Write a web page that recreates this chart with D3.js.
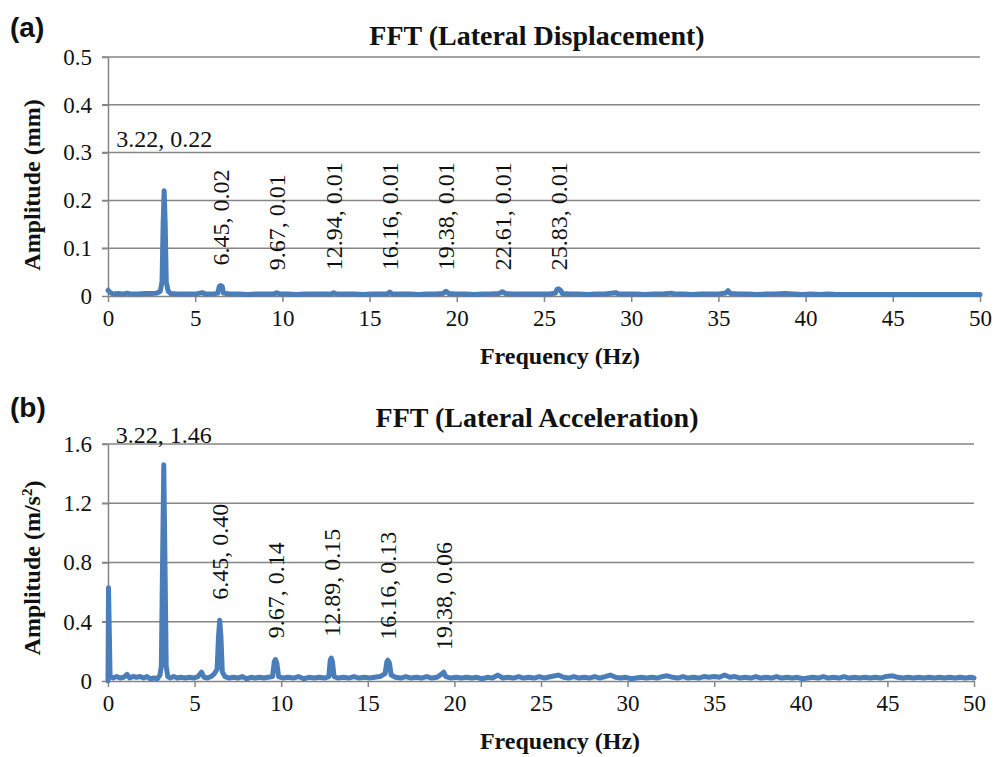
<!DOCTYPE html>
<html>
<head>
<meta charset="utf-8">
<script src="https://cdn.jsdelivr.net/npm/d3@7"></script>
<style>
  body { margin: 0; background: #fff; }
  .grid line { stroke: #858585; stroke-width: 1.5; }
  .axis path, .axis line { stroke: #858585; stroke-width: 1.5; }
  .series { fill: none; stroke: #4a7ebb; stroke-width: 5; stroke-linejoin: round; stroke-linecap: round; }
</style>
</head>
<body>
<script>
// frequency ticks shared by both panels
const freqTicks = [0, 5, 10, 15, 20, 25, 30, 35, 40, 45, 50];
const dispTicks = [0, 0.1, 0.2, 0.3, 0.4, 0.5];
const accTicks = [0, 0.4, 0.8, 1.2, 1.6];

// (a) lateral displacement spectrum, [Hz, mm]
const dispSpectrum = [
  [0,0.012],[0.1,0.008],[0.3,0.004],[0.6,0.005],[0.9,0.004],[1.1,0.006],[1.3,0.004],[1.7,0.004],
  [2.1,0.005],[2.5,0.005],[2.8,0.006],[3.0,0.01],[3.1,0.03],[3.16,0.15],[3.22,0.22],[3.28,0.15],
  [3.34,0.03],[3.45,0.01],[3.6,0.005],[4.0,0.004],[4.5,0.004],[5.0,0.004],[5.4,0.007],[5.6,0.004],
  [6.0,0.004],[6.3,0.006],[6.38,0.02],[6.45,0.022],[6.55,0.02],[6.62,0.006],[7.0,0.004],[7.5,0.004],
  [8.0,0.003],[8.5,0.004],[9.0,0.004],[9.5,0.004],[9.67,0.007],[9.85,0.004],[10.3,0.004],[10.8,0.003],
  [11.3,0.004],[11.8,0.004],[12.3,0.004],[12.8,0.004],[12.94,0.007],[13.1,0.004],[13.6,0.004],[14.1,0.004],
  [14.6,0.003],[15.1,0.004],[15.6,0.004],[16.0,0.004],[16.16,0.008],[16.3,0.004],[16.8,0.004],[17.3,0.004],
  [17.8,0.003],[18.3,0.004],[18.8,0.004],[19.2,0.005],[19.38,0.01],[19.55,0.005],[20.0,0.004],[20.5,0.004],
  [21.0,0.003],[21.5,0.004],[22.0,0.004],[22.4,0.005],[22.61,0.009],[22.8,0.005],[23.3,0.004],[23.8,0.004],
  [24.3,0.004],[24.8,0.004],[25.3,0.004],[25.65,0.006],[25.75,0.014],[25.83,0.015],[25.95,0.012],[26.05,0.005],
  [26.5,0.004],[27,0.004],[27.5,0.003],[28,0.004],[28.5,0.004],[29.1,0.007],[29.3,0.004],[29.8,0.004],
  [30.3,0.004],[30.8,0.003],[31.3,0.004],[31.8,0.004],[32.3,0.006],[32.5,0.004],[33,0.004],[33.5,0.003],
  [34,0.004],[34.5,0.004],[35,0.004],[35.4,0.006],[35.55,0.011],[35.7,0.005],[36.2,0.004],[36.7,0.004],
  [37.2,0.003],[37.7,0.004],[38.2,0.004],[38.8,0.005],[39.3,0.004],[39.8,0.003],[40.3,0.004],[40.8,0.003],
  [41.3,0.004],[41.8,0.003],[42.3,0.003],[43,0.003],[44,0.003],[45,0.003],[46,0.003],[47,0.003],
  [48,0.003],[49,0.003],[50,0.003]
];

// (b) lateral acceleration spectrum, [Hz, m/s2]
const accSpectrum = [
  [0,0.0],[0.03,0.63],[0.08,0.3],[0.12,0.03],[0.3,0.02],[0.5,0.03],[0.7,0.02],[0.9,0.025],[1.1,0.045],
  [1.25,0.02],[1.45,0.03],[1.65,0.025],[1.85,0.03],[2.05,0.02],[2.25,0.03],[2.45,0.015],[2.65,0.02],
  [2.85,0.015],[3.0,0.04],[3.08,0.1],[3.15,0.8],[3.22,1.46],[3.29,0.8],[3.36,0.1],[3.45,0.03],[3.6,0.02],
  [3.8,0.03],[4.0,0.02],[4.2,0.025],[4.45,0.02],[4.7,0.025],[4.95,0.02],[5.2,0.03],[5.4,0.06],[5.55,0.025],
  [5.75,0.02],[5.95,0.03],[6.15,0.05],[6.3,0.08],[6.38,0.3],[6.45,0.41],[6.52,0.3],[6.6,0.06],[6.75,0.03],
  [7.0,0.02],[7.25,0.025],[7.5,0.02],[7.75,0.03],[8.0,0.015],[8.25,0.025],[8.5,0.02],[8.75,0.025],[9.0,0.02],
  [9.25,0.025],[9.5,0.03],[9.6,0.13],[9.67,0.145],[9.75,0.12],[9.85,0.03],[10.1,0.02],[10.4,0.025],[10.7,0.02],
  [11.0,0.03],[11.3,0.015],[11.6,0.025],[11.9,0.02],[12.2,0.025],[12.5,0.02],[12.75,0.03],[12.83,0.14],
  [12.89,0.155],[12.96,0.13],[13.05,0.03],[13.3,0.02],[13.6,0.025],[13.9,0.02],[14.2,0.03],[14.5,0.02],
  [14.8,0.025],[15.1,0.02],[15.4,0.025],[15.7,0.03],[16.0,0.05],[16.1,0.13],[16.16,0.14],[16.25,0.12],
  [16.35,0.04],[16.6,0.025],[16.9,0.02],[17.2,0.03],[17.5,0.02],[17.8,0.025],[18.1,0.02],[18.4,0.03],
  [18.7,0.02],[19.0,0.025],[19.3,0.05],[19.38,0.06],[19.5,0.03],[19.8,0.02],[20.1,0.025],[20.4,0.02],
  [20.7,0.025],[21.0,0.02],[21.3,0.025],[21.6,0.015],[21.9,0.025],[22.2,0.02],[22.5,0.04],[22.8,0.02],
  [23.1,0.025],[23.4,0.02],[23.7,0.03],[24.0,0.02],[24.3,0.025],[24.6,0.02],[24.9,0.03],[25.2,0.02],
  [25.6,0.03],[26.0,0.04],[26.3,0.025],[26.6,0.02],[26.9,0.03],[27.2,0.02],[27.5,0.025],[27.8,0.02],
  [28.1,0.03],[28.4,0.02],[28.7,0.03],[29.0,0.04],[29.3,0.025],[29.6,0.02],[29.9,0.025],[30.2,0.015],
  [30.5,0.02],[30.8,0.025],[31.1,0.02],[31.4,0.025],[31.7,0.02],[32.0,0.03],[32.3,0.035],[32.6,0.025],
  [32.9,0.02],[33.2,0.03],[33.5,0.02],[33.8,0.025],[34.1,0.02],[34.4,0.03],[34.7,0.025],[35.0,0.03],
  [35.3,0.025],[35.6,0.04],[35.9,0.025],[36.2,0.03],[36.5,0.02],[36.8,0.025],[37.1,0.02],[37.4,0.03],
  [37.7,0.02],[38.0,0.025],[38.3,0.02],[38.6,0.03],[38.9,0.02],[39.2,0.025],[39.5,0.02],[39.8,0.025],
  [40.1,0.015],[40.4,0.02],[40.7,0.025],[41.0,0.02],[41.3,0.03],[41.6,0.02],[41.9,0.025],[42.2,0.02],
  [42.5,0.03],[42.8,0.02],[43.1,0.025],[43.4,0.02],[43.7,0.025],[44.0,0.02],[44.3,0.025],[44.6,0.02],
  [44.9,0.03],[45.3,0.035],[45.6,0.025],[45.9,0.02],[46.2,0.025],[46.5,0.02],[46.8,0.025],[47.1,0.02],
  [47.4,0.025],[47.7,0.02],[48.0,0.025],[48.3,0.02],[48.6,0.025],[48.9,0.02],[49.2,0.025],[49.5,0.02],
  [49.8,0.025],[50,0.02]
];

// labelled peaks: [frequency, amplitude]
const dispPeaks = [[3.22,0.22],[6.45,0.02],[9.67,0.01],[12.94,0.01],[16.16,0.01],[19.38,0.01],[22.61,0.01],[25.83,0.01]];
const accPeaks = [[3.22,1.46],[6.45,0.40],[9.67,0.14],[12.89,0.15],[16.16,0.13],[19.38,0.06]];

const width = 1006, height = 757;
const serif = '"Liberation Serif", "Times New Roman", serif';
const sans = '"Liberation Sans", Arial, sans-serif';

const svg = d3.select('body').append('svg')
  .attr('width', width)
  .attr('height', height);

// helper: styled text, fonts set through style() so nothing overrides them
function txt(sel, family, size, bold) {
  return sel.style('font-family', family)
    .style('font-size', size + 'px')
    .style('font-weight', bold ? 'bold' : 'normal')
    .style('fill', '#111');
}

function drawPanel(opt) {
  const x = d3.scaleLinear().domain([0, 50]).range([opt.left, opt.right]);
  const y = d3.scaleLinear().domain([0, opt.yMax]).range([opt.bottom, opt.top]);
  const g = svg.append('g');

  // horizontal gridlines, sticking out a little left of the axis like Excel
  g.append('g').attr('class', 'grid')
    .selectAll('line')
    .data(opt.yTicks.filter(d => d > 0))
    .enter().append('line')
      .attr('x1', opt.left - 6)
      .attr('x2', opt.right)
      .attr('y1', d => y(d))
      .attr('y2', d => y(d));

  const fmt = d => d === 0 ? '0' : d.toFixed(1);

  const ya = g.append('g').attr('class', 'axis')
    .attr('transform', `translate(${opt.left},0)`)
    .call(d3.axisLeft(y).tickValues(opt.yTicks).tickFormat(fmt).tickSizeInner(6).tickSizeOuter(0).tickPadding(10));

  const xa = g.append('g').attr('class', 'axis')
    .attr('transform', `translate(0,${opt.bottom})`)
    .call(d3.axisBottom(x).tickValues(freqTicks).tickFormat(d3.format('d')).tickSizeInner(6).tickSizeOuter(0).tickPadding(8));

  txt(ya.selectAll('text'), serif, 23, false);
  txt(xa.selectAll('text'), serif, 23, false);

  const line = d3.line().x(d => x(d[0])).y(d => y(d[1]));
  g.append('path')
    .datum(opt.spectrum)
    .attr('class', 'series')
    .attr('d', line);

  const lbl = d => d[0].toFixed(2) + ', ' + d[1].toFixed(2);

  // first (fundamental) peak gets a horizontal label, the harmonics are rotated
  txt(g.append('text'), serif, 24, false)
    .attr('x', x(opt.peaks[0][0]))
    .attr('y', y(opt.peaks[0][1]) - opt.firstOffset)
    .attr('text-anchor', 'middle')
    .text(lbl(opt.peaks[0]));

  txt(g.selectAll('text.rot')
    .data(opt.peaks.slice(1))
    .enter().append('text')
      .attr('class', 'rot'), serif, 24, false)
      .attr('text-anchor', 'start')
      .attr('dy', '0.35em')
      .attr('transform', d => `translate(${x(d[0])},${y(d[1]) - opt.rotOffset}) rotate(-90)`)
      .text(lbl);

  txt(g.append('text'), serif, 28, true)
    .attr('x', 537).attr('y', opt.titleY)
    .attr('text-anchor', 'middle')
    .text(opt.title);

  txt(g.append('text'), sans, 28, true)
    .attr('x', 10).attr('y', opt.tagY)
    .text(opt.tag);

  txt(g.append('text'), serif, 24, true)
    .attr('x', 560).attr('y', opt.bottom + 68)
    .attr('text-anchor', 'middle')
    .text('Frequency (Hz)');

  const yt = txt(g.append('text'), serif, 24, true)
    .attr('text-anchor', 'middle')
    .attr('transform', `translate(40,${opt.yTitleY}) rotate(-90)`);
  yt.append('tspan').text(opt.yTitle);
  if (opt.yTitleSup) {
    yt.append('tspan').style('font-size', '15px').attr('dy', '-0.55em').text(opt.yTitleSup);
    yt.append('tspan').attr('dy', '0.37em').text(')');
  }
}

drawPanel({
  tag: '(a)', tagY: 37,
  title: 'FFT (Lateral Displacement)', titleY: 45,
  left: 108, right: 980, top: 57, bottom: 296,
  yMax: 0.5, yTicks: dispTicks,
  spectrum: dispSpectrum, peaks: dispPeaks,
  firstOffset: 44, rotOffset: 21,
  yTitle: 'Amplitude (mm)', yTitleY: 185
});

drawPanel({
  tag: '(b)', tagY: 417,
  title: 'FFT (Lateral Acceleration)', titleY: 427,
  left: 108, right: 974, top: 444, bottom: 681,
  yMax: 1.6, yTicks: accTicks,
  spectrum: accSpectrum, peaks: accPeaks,
  firstOffset: 22, rotOffset: 22,
  yTitle: 'Amplitude (m/s', yTitleSup: '2', yTitleY: 568
});
</script>
</body>
</html>
